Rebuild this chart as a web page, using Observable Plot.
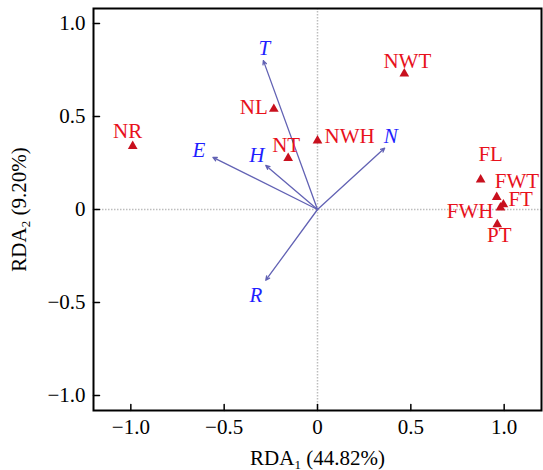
<!DOCTYPE html>
<html><head><meta charset="utf-8">
<script src="https://cdn.jsdelivr.net/npm/d3@7"></script>
<script src="https://cdn.jsdelivr.net/npm/@observablehq/plot@0.6"></script>
<style>
body{margin:0;background:#fff}
#chart svg text, #chart svg tspan{font-family:"Liberation Serif","Times New Roman",serif !important;}
</style>
</head><body><div id="chart"></div>
<script>
// Sites (red triangles)
const sites = ["NR","NWT","NL","NWH","NT","FL","FWT","FT","FWH","PT"];
const siteRDA1 = [-0.99, 0.465, -0.234, 0.0, -0.157, 0.874, 0.96, 0.996, 0.98, 0.963];
const siteRDA2 = [0.34, 0.73, 0.54, 0.37, 0.276, 0.16, 0.066, 0.027, 0.01, -0.08];
// Environmental vectors (blue arrows)
const envVars = ["T","E","H","N","R"];
const envRDA1 = [-0.29, -0.56, -0.277, 0.36, -0.277];
const envRDA2 = [0.80, 0.28, 0.237, 0.33, -0.38];
// Axes
const xTicks = [-1, -0.5, 0, 0.5, 1];
const yTicks = [-1, -0.5, 0, 0.5, 1];
const xLabel = ["RDA", "1", " (44.82%)"];
const yLabel = ["RDA", "2", " (9.20%)"];

const siteData = sites.map((s, i) => ({name: s, x: siteRDA1[i], y: siteRDA2[i]}));
const envData = envVars.map((s, i) => ({name: s, x: envRDA1[i], y: envRDA2[i]}));

const sitePlace = {
  NR:  {dx: -5, dy: -15, a: "middle"},
  NWT: {dx: 3,  dy: -12, a: "middle"},
  NL:  {dx: -6, dy: -2,  a: "end"},
  NWH: {dx: 7,  dy: -4,  a: "start"},
  NT:  {dx: -2, dy: -13, a: "middle"},
  FL:  {dx: 10, dy: -25, a: "middle"},
  FWT: {dx: -2, dy: -16, a: "start"},
  FT:  {dx: 5,  dy: -5,  a: "start"},
  FWH: {dx: -7, dy: 4,   a: "end"},
  PT:  {dx: 2,  dy: 11,  a: "middle"}
};
const envPlace = {
  T: {dx: 1, dy: -12},
  E: {dx: -14, dy: -7},
  H: {dx: -9, dy: -10},
  N: {dx: 6, dy: -12},
  R: {dx: -10, dy: 15}
};

const FS = 21;
const fmt = d => d === 0 ? "0" : d3.format(".1f")(d);
const tickShape = {draw(ctx, l) { ctx.moveTo(0, 0); ctx.lineTo(0, -l); }};
const red = "#e8111c", blue = "#1f1fff";

const plot = Plot.plot({
  width: 543, height: 470,
  marginLeft: 93, marginRight: 2, marginTop: 8, marginBottom: 60,
  style: {fontFamily: "Liberation Serif, serif", fontSize: FS + "px", background: "#fff", color: "#000"},
  x: {domain: [-1.2, 1.2]},
  y: {domain: [-1.08, 1.08]},
  marks: [
    Plot.ruleX([0], {stroke: "#bdbdbd", strokeWidth: 1.5, strokeDasharray: "1.5,1.5"}),
    Plot.ruleY([0], {stroke: "#bdbdbd", strokeWidth: 1.5, strokeDasharray: "1.5,1.5"}),
    Plot.arrow(envData, {x1: d => 0, y1: d => 0, x2: "x", y2: "y", stroke: "#6262b4", strokeWidth: 1.3, headLength: 5, headAngle: 50}),
    ...envData.map(d => Plot.text([d], {x: "x", y: "y", text: "name", fill: blue, fontStyle: "italic", fontSize: FS, dx: envPlace[d.name].dx, dy: envPlace[d.name].dy})),
    Plot.dot(siteData, {x: "x", y: "y", symbol: "triangle", r: 3.6, fill: "#c8101e"}),
    ...siteData.map(d => Plot.text([d], {x: "x", y: "y", text: "name", fill: red, fontSize: FS, textAnchor: sitePlace[d.name].a, dx: sitePlace[d.name].dx, dy: sitePlace[d.name].dy})),
    Plot.axisX({ticks: xTicks, tickFormat: fmt, tickSize: 0, tickPadding: 9, fontSize: FS, label: xLabel.join(""), labelAnchor: "center", labelOffset: 54, labelArrow: "none"}),
    Plot.axisY({ticks: yTicks, tickFormat: fmt, tickSize: 0, tickPadding: 8, fontSize: FS, label: yLabel.join(""), labelAnchor: "center", labelOffset: 82, labelArrow: "none"}),
    Plot.vector(xTicks, {x: d => d, frameAnchor: "bottom", length: 6, rotate: 0, anchor: "start", shape: tickShape, stroke: "#000", strokeWidth: 1.5}),
    Plot.vector(yTicks, {y: d => d, frameAnchor: "left", length: 6, rotate: 90, anchor: "start", shape: tickShape, stroke: "#000", strokeWidth: 1.5}),
    Plot.frame({stroke: "#000", strokeWidth: 2})
  ]
});

function subLabel(sel, parts) {
  sel.text(null);
  sel.append("tspan").text(parts[0]);
  sel.append("tspan").attr("dy", "4").attr("font-size", "13px").text(parts[1]);
  sel.append("tspan").attr("dy", "-4").text(parts[2]);
}
const svg = d3.select(plot);
subLabel(svg.select('g[aria-label="x-axis label"] text'), xLabel);
subLabel(svg.select('g[aria-label="y-axis label"] text'), yLabel);

document.getElementById("chart").appendChild(plot);
</script>
</body></html>
